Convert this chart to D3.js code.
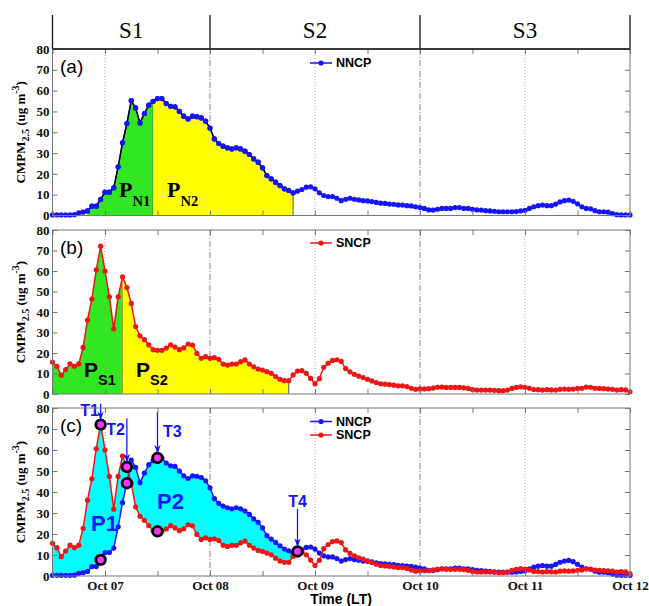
<!DOCTYPE html>
<html>
<head>
<meta charset="utf-8">
<script src="https://cdn.jsdelivr.net/npm/d3@7"></script>
<style>
body { margin: 0; background: #fff; }
</style>
</head>
<body>
<div id="chart"></div>
<script>
// hourly CMPM2.5, Oct 06 12:00 -> Oct 12 00:00 (LT)
var nncp = [0.3, 0.3, 0.3, 0.3, 0.3, 0.4, 1.3, 1.6, 2.2, 4.5,
    4.5, 7.7, 11.2, 11.2, 13.3, 23.4, 34.9, 44.2, 55.2, 51.7,
    44.5, 49, 53, 54.9, 56.2, 56.2, 53.8, 52.5, 52.2, 50,
    47.7, 46.4, 47.7, 47.5, 46.9, 45.3, 42, 36.8, 34.6, 33.3,
    32.5, 32, 32.5, 32, 30.9, 29.3, 27.2, 25.6, 22.9, 19.2,
    17.6, 16, 14.4, 12.8, 12, 10.9, 11.7, 12.5, 13.6, 13.8,
    12.8, 10.9, 9.6, 9.1, 9.1, 8.3, 7.1, 7.8, 8.3, 7.8,
    7.5, 7.1, 7, 6.7, 6.3, 5.9, 5.8, 5.5, 5.4, 5.1,
    5, 4.7, 4.6, 4.2, 3.8, 3.4, 2.7, 2.6, 3, 3.4,
    3.4, 3.4, 3.8, 3.8, 3.4, 3.4, 3, 2.7, 2.6, 2.3,
    2.2, 2, 1.8, 1.8, 1.8, 1.8, 1.9, 2.2, 2.5, 3.4,
    4.2, 4.7, 5, 4.7, 4.7, 5.5, 6.5, 7.1, 7.4, 6.8,
    5.6, 4.2, 3.4, 3.2, 2.3, 1.8, 1.8, 1.6, 0.9, 0.4,
    0.3, 0.3, 0.3];
var sncp = [15.6, 13.5, 9.2, 11.9, 14.7, 13.5, 14.7, 22.7, 36.1, 46.3,
    60.6, 72.1, 60, 47.4, 31.8, 47.4, 57.1, 51.9, 44.2, 32.9,
    28.4, 26.5, 24, 21.6, 21.3, 21.3, 22.4, 24, 22.9, 21.6,
    22.5, 24.4, 23.9, 19.8, 17.4, 18.2, 17.4, 17.7, 16.9, 14.6,
    14.1, 14.6, 14.6, 15.8, 16.6, 14.6, 13.3, 12.2, 11.7, 10.9,
    10.1, 8.5, 7.2, 6.5, 6.5, 9.3, 11.2, 11.4, 10.1, 7.6,
    5, 7.5, 13, 15, 16.4, 16.7, 15.9, 12.4, 10.8, 9.6,
    8.7, 8, 7.2, 6.4, 5.6, 5, 4.8, 4.6, 4.3, 4,
    4, 3.6, 2.8, 2.3, 2.5, 2.5, 2.6, 2.9, 3.3, 3.4,
    3.2, 3.2, 3.2, 3.2, 3, 2.7, 2.2, 1.9, 1.9, 1.9,
    1.9, 1.8, 1.6, 1.6, 1.9, 2.7, 3.2, 3.5, 3.3, 2.8,
    2.2, 2.1, 1.9, 2.1, 2, 1.9, 2.3, 2.4, 2.3, 2.4,
    2.7, 2.8, 3.4, 3.3, 2.8, 2.7, 2.6, 2.4, 2.3, 1.9,
    2.1, 2, 1.1];

var stageNames = ["S1", "S2", "S3"];
var stageEdges = ["2014-10-06T12:00Z", "2014-10-08T00:00Z", "2014-10-10T00:00Z", "2014-10-12T00:00Z"];
var dottedDays = ["2014-10-07T00:00Z", "2014-10-09T00:00Z", "2014-10-11T00:00Z"];
var yTicks = [0, 10, 20, 30, 40, 50, 60, 70, 80];

// hour indices bounding the shaded periods
var periodsA = [{name: "N1", from: 8, to: 23, color: "#33e622"}, {name: "N2", from: 23, to: 55, color: "#ffff00"}];
var periodsB = [{name: "S1", from: 0, to: 16, color: "#33e622"}, {name: "S2", from: 16, to: 54, color: "#ffff00"}];
var periodC = {from: 0, to: 56};
var turnPoints = [
    {label: "T1", idx: 11, top: 82},
    {label: "T2", idx: 17, top: 75},
    {label: "T3", idx: 24, top: 78},
    {label: "T4", idx: 56, top: 32}
];
var marked = [[11, "s"], [11, "n"], [17, "s"], [17, "n"], [24, "n"], [24, "s"], [56, "n"]];

var BLUE = "#1414ff", RED = "#f01414";
var W = 649, H = 606;
var start = Date.UTC(2014, 9, 6, 12);
var times = nncp.map(function (d, i) { return new Date(start + i * 3600000); });
var sans = "'Liberation Sans', Arial, sans-serif";
var serif = "'Liberation Serif', 'Times New Roman', serif";

var svg = d3.select("#chart").append("svg")
    .attr("width", W).attr("height", H)
    .style("font-family", serif);

var defs = svg.append("defs");
defs.append("marker").attr("id", "arr")
    .attr("viewBox", "0 0 10 10").attr("refX", 9).attr("refY", 5)
    .attr("markerWidth", 7).attr("markerHeight", 7).attr("orient", "auto")
    .append("path").attr("d", "M0,1.5 L10,5 L0,8.5 L3,5 z").attr("fill", BLUE);

var x = d3.scaleUtc().domain([times[0], times[times.length - 1]]).range([52.5, 630]);
var parse = function (s) { return new Date(s); };

// stage header
stageEdges.forEach(function (s) {
    svg.append("line").attr("x1", x(parse(s))).attr("x2", x(parse(s)))
        .attr("y1", 15).attr("y2", 49).attr("stroke", "#111").attr("stroke-width", 1.3);
});
stageNames.forEach(function (n, i) {
    var cx = (x(parse(stageEdges[i])) + x(parse(stageEdges[i + 1]))) / 2;
    svg.append("text").attr("x", cx).attr("y", 38).attr("text-anchor", "middle")
        .attr("font-size", 23).text(n);
});

var panels = [
    {key: "a", top: 49, bottom: 215.5},
    {key: "b", top: 230, bottom: 394},
    {key: "c", top: 408, bottom: 576}
];

function yLabel(cy) {
    var t = svg.append("text")
        .attr("transform", "translate(25," + cy + ") rotate(-90)")
        .attr("text-anchor", "middle").attr("font-size", 13).attr("font-weight", "bold");
    t.append("tspan").text("CMPM");
    t.append("tspan").attr("dy", 4).attr("font-size", 10).text("2.5");
    t.append("tspan").attr("dy", -4).text(" (ug m");
    t.append("tspan").attr("dy", -6).attr("font-size", 10).text("-3");
    t.append("tspan").attr("dy", 6).text(")");
}

function dots(g, y, data, color) {
    g.append("path").datum(data)
        .attr("fill", "none").attr("stroke", color).attr("stroke-width", 1.5)
        .attr("d", d3.line().x(function (d, i) { return x(times[i]); }).y(function (d) { return y(d); }));
    g.selectAll(null).data(data).enter().append("circle")
        .attr("cx", function (d, i) { return x(times[i]); })
        .attr("cy", function (d) { return y(d); })
        .attr("r", 2.6).attr("fill", color);
}

function legend(g, yPos, name, color) {
    g.append("line").attr("x1", 310).attr("x2", 332).attr("y1", yPos).attr("y2", yPos)
        .attr("stroke", color).attr("stroke-width", 1.5);
    g.append("circle").attr("cx", 321).attr("cy", yPos).attr("r", 2.6).attr("fill", color);
    g.append("text").attr("x", 336).attr("y", yPos + 4.3)
        .attr("font-family", sans).attr("font-weight", "bold")
        .attr("font-size", 12.5).text(name);
}

function periodFill(g, y, data, p) {
    var idx = d3.range(p.from, p.to + 1);
    g.append("path").datum(idx)
        .attr("fill", p.color)
        .attr("d", d3.area()
            .x(function (i) { return x(times[i]); })
            .y0(y(0))
            .y1(function (i) { return y(data[i]); }));
    g.append("line")
        .attr("x1", x(times[p.to])).attr("x2", x(times[p.to]))
        .attr("y1", y(0)).attr("y2", y(data[p.to]))
        .attr("stroke", "#555").attr("stroke-width", 1);
}

panels.forEach(function (p) {
    var y = d3.scaleLinear().domain([0, 80]).range([p.bottom, p.top]);
    p.y = y;
    var g = svg.append("g");
    p.g = g;

    // vertical guide lines
    dottedDays.forEach(function (s) {
        g.append("line").attr("x1", x(parse(s))).attr("x2", x(parse(s)))
            .attr("y1", p.top).attr("y2", p.bottom)
            .attr("stroke", "#aaa").attr("stroke-dasharray", "1,2");
    });
    stageEdges.slice(1, 3).forEach(function (s) {
        g.append("line").attr("x1", x(parse(s))).attr("x2", x(parse(s)))
            .attr("y1", p.top).attr("y2", p.bottom)
            .attr("stroke", "#888").attr("stroke-dasharray", "6,2,1,2");
    });
});

// (a) NNCP
(function () {
    var p = panels[0], g = p.g, y = p.y;
    periodsA.forEach(function (q) { periodFill(g, y, nncp, q); });
    dots(g, y, nncp, BLUE);
    var idx = d3.range(periodsA[0].from, periodsA[1].to + 1);
    g.append("path").datum(idx).attr("fill", "none").attr("stroke", "#000").attr("stroke-width", 1.3)
        .attr("d", d3.line().x(function (i) { return x(times[i]); }).y(function (i) { return y(nncp[i]); }));
    g.selectAll(null).data(idx).enter().append("circle")
        .attr("cx", function (i) { return x(times[i]); })
        .attr("cy", function (i) { return y(nncp[i]); })
        .attr("r", 2.6).attr("fill", BLUE);
    var labs = [[119, 197], [167, 197]];
    periodsA.forEach(function (q, k) {
        var t = g.append("text").attr("x", labs[k][0]).attr("y", labs[k][1])
            .attr("font-weight", "bold").attr("font-size", 22);
        t.append("tspan").text("P");
        t.append("tspan").attr("dy", 9).attr("font-size", 14.5).text(q.name);
    });
    legend(g, 63, "NNCP", BLUE);
})();

// (b) SNCP
(function () {
    var p = panels[1], g = p.g, y = p.y;
    periodsB.forEach(function (q) { periodFill(g, y, sncp, q); });
    dots(g, y, sncp, RED);
    var labs = [[84, 377], [136, 377]];
    periodsB.forEach(function (q, k) {
        var t = g.append("text").attr("x", labs[k][0]).attr("y", labs[k][1])
            .attr("font-family", sans)
            .attr("font-weight", "bold").attr("font-size", 21);
        t.append("tspan").text("P");
        t.append("tspan").attr("dy", 8).attr("font-size", 14.5).text(q.name);
    });
    legend(g, 243, "SNCP", RED);
})();

// (c) both
(function () {
    var p = panels[2], g = p.g, y = p.y;
    var idx = d3.range(periodC.from, periodC.to + 1);
    g.append("path").datum(idx).attr("fill", "#00ffff")
        .attr("d", d3.area()
            .x(function (i) { return x(times[i]); })
            .y0(function (i) { return y(sncp[i]); })
            .y1(function (i) { return y(nncp[i]); }));
    dots(g, y, nncp, BLUE);
    dots(g, y, sncp, RED);
    marked.forEach(function (m) {
        var v = m[1] === "n" ? nncp[m[0]] : sncp[m[0]];
        g.append("circle").attr("cx", x(times[m[0]])).attr("cy", y(v))
            .attr("r", 4.8).attr("fill", "#ff33ff").attr("stroke", "#000").attr("stroke-width", 2.8);
    });
    turnPoints.forEach(function (t) {
        var px = x(times[t.idx]);
        var v = Math.max(nncp[t.idx], sncp[t.idx]);
        g.append("line").attr("x1", px).attr("x2", px)
            .attr("y1", y(t.top)).attr("y2", y(v) - 5)
            .attr("stroke", BLUE).attr("stroke-width", 1.3).attr("marker-end", "url(#arr)");
    });
    var tl = [
        {t: "T1", x: 99, y: 416, a: "end"},
        {t: "T2", x: 125, y: 435, a: "end"},
        {t: "T3", x: 163, y: 437, a: "start"},
        {t: "T4", x: x(times[56]), y: 507, a: "middle"}
    ];
    tl.forEach(function (d) {
        g.append("text").attr("x", d.x).attr("y", d.y).attr("text-anchor", d.a)
            .attr("font-family", sans).attr("font-weight", "bold").attr("font-size", 16)
            .attr("fill", BLUE).text(d.t);
    });
    g.append("text").attr("x", 91).attr("y", 531).attr("font-family", sans)
        .attr("font-weight", "bold").attr("font-size", 22).attr("fill", BLUE).text("P1");
    g.append("text").attr("x", 157).attr("y", 509).attr("font-family", sans)
        .attr("font-weight", "bold").attr("font-size", 22).attr("fill", BLUE).text("P2");
    legend(g, 421.5, "NNCP", BLUE);
    legend(g, 435, "SNCP", RED);
})();

// frames and axes on top
var tick12 = x.ticks(d3.utcHour.every(12));
var dayFmt = d3.utcFormat("%b %d");
panels.forEach(function (p, k) {
    var y = p.y;
    svg.append("rect").attr("x", 52.5).attr("y", p.top).attr("width", 630 - 52.5).attr("height", p.bottom - p.top)
        .attr("fill", "none").attr("stroke", "#777").attr("stroke-width", 1);

    var left = svg.append("g").attr("transform", "translate(52.5,0)")
        .call(d3.axisLeft(y).tickValues(yTicks).tickSizeInner(-5).tickSizeOuter(0).tickPadding(3));
    left.select(".domain").remove();
    left.selectAll("line").attr("stroke", "#777");
    left.selectAll("text").attr("font-family", serif)
        .attr("font-weight", "bold").attr("font-size", 13).attr("fill", "#111");

    var right = svg.append("g").attr("transform", "translate(630,0)")
        .call(d3.axisRight(y).tickValues(yTicks).tickSizeInner(-5).tickSizeOuter(0).tickFormat(""));
    right.select(".domain").remove();
    right.selectAll("line").attr("stroke", "#777");

    var top = svg.append("g").attr("transform", "translate(0," + p.top + ")")
        .call(d3.axisTop(x).tickValues(tick12).tickSizeInner(-5).tickSizeOuter(0).tickFormat(""));
    top.select(".domain").remove();
    top.selectAll("line").attr("stroke", "#777");

    var bottom = svg.append("g").attr("transform", "translate(0," + p.bottom + ")")
        .call(d3.axisBottom(x).tickValues(tick12).tickSizeInner(-5).tickSizeOuter(0).tickPadding(5)
            .tickFormat(function (d) { return (k === 2 && d.getUTCHours() === 0) ? dayFmt(d) : ""; }));
    bottom.select(".domain").remove();
    bottom.selectAll("line").attr("stroke", "#777");
    bottom.selectAll("text").attr("font-family", serif)
        .attr("font-weight", "bold").attr("font-size", 13).attr("fill", "#111");

    yLabel((p.top + p.bottom) / 2);
    svg.append("text").attr("x", 60).attr("y", p.top + 24)
        .attr("font-family", sans).attr("font-size", 19)
        .text("(" + p.key + ")");
});
svg.append("line").attr("x1", 52.5).attr("x2", 630).attr("y1", 49).attr("y2", 49)
    .attr("stroke", "#111").attr("stroke-width", 1.5);

svg.append("text").attr("x", 341).attr("y", 604).attr("text-anchor", "middle")
    .attr("font-family", sans).attr("font-weight", "bold")
    .attr("font-size", 14).text("Time (LT)");
</script>
</body>
</html>
